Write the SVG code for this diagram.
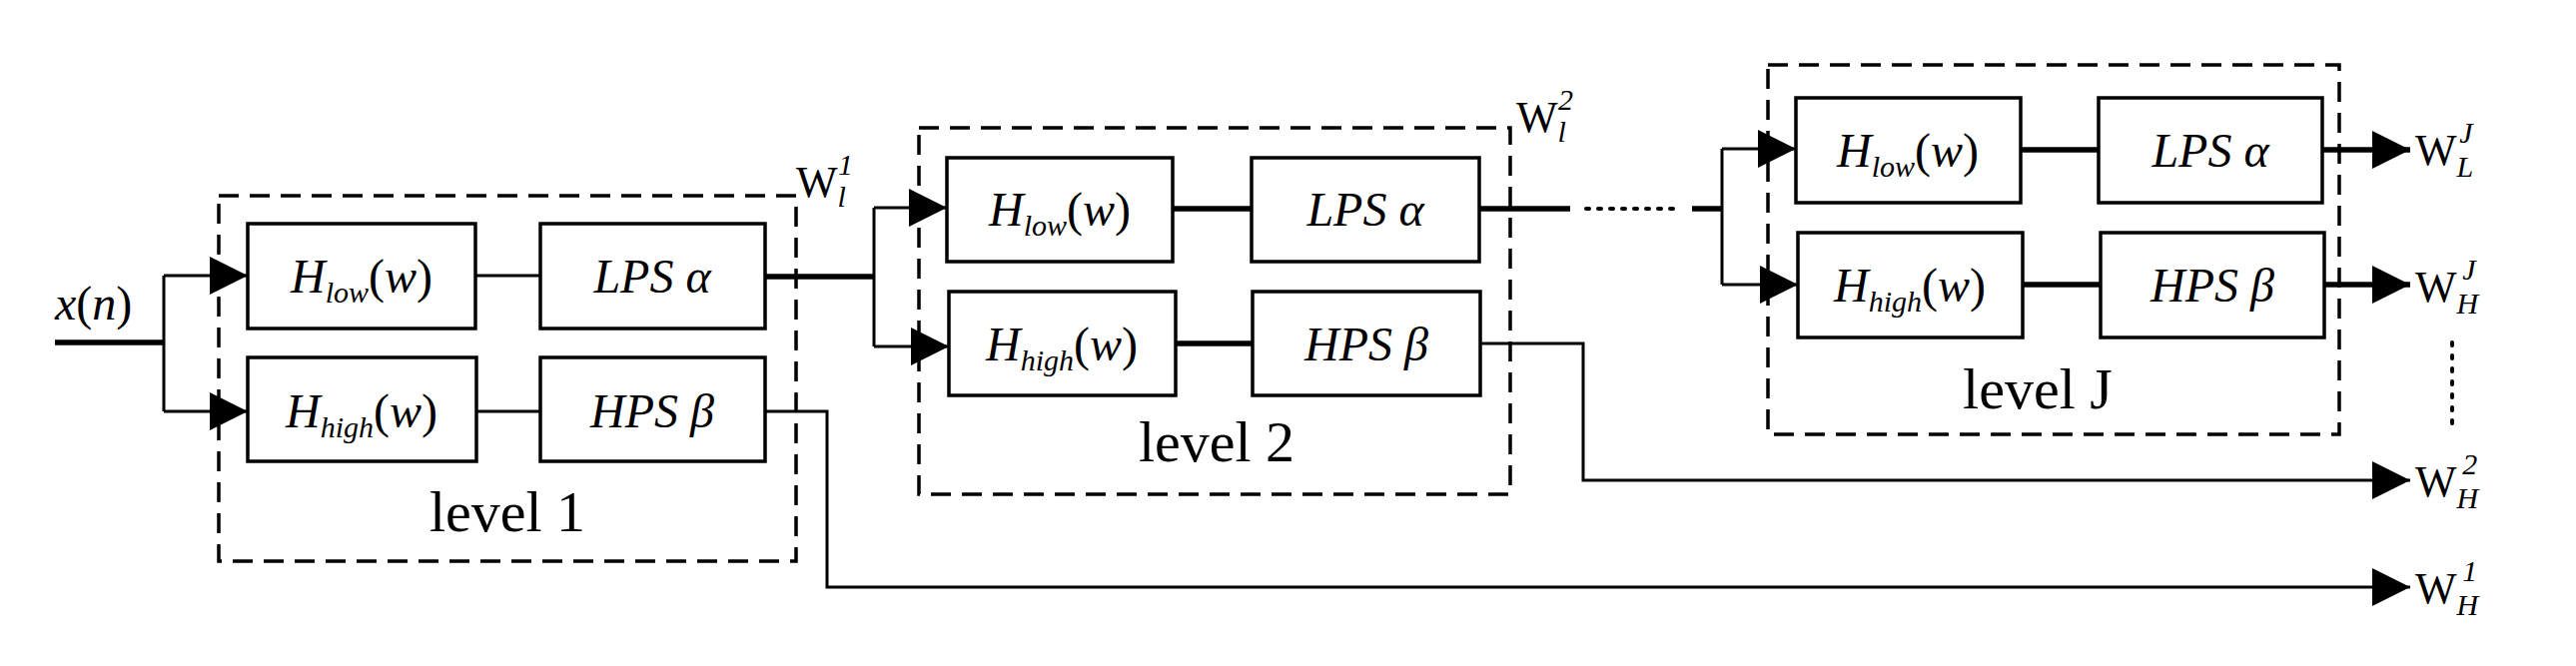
<svg xmlns="http://www.w3.org/2000/svg" width="2579" height="667" viewBox="0 0 2579 667">
<style>
.box{fill:#fff;stroke:#000;stroke-width:3.5}
.lvl{fill:none;stroke:#000;stroke-width:3.5;stroke-dasharray:20 11}
.w{fill:none;stroke:#000;stroke-width:3}
.t{fill:none;stroke:#000;stroke-width:5.5}
text{font-family:"Liberation Serif","Times New Roman",serif;fill:#000}
.m{font-style:italic;font-size:48px}
.s{font-size:30px;font-style:italic}
.lab{font-size:58px}
.W{font-size:44px}
</style>
<defs>
<marker id="a" viewBox="0 0 10 10" refX="10" refY="5" markerWidth="38" markerHeight="38" markerUnits="userSpaceOnUse" orient="auto"><path d="M0,0L10,5L0,10z" fill="#000"/></marker>
</defs>
<g id="connectors">
<path class="t" d="M55,343H164"/>
<path class="w" d="M164,276V412"/>
<path class="w" d="M164,276H248" marker-end="url(#a)"/>
<path class="w" d="M164,412H248" marker-end="url(#a)"/>
<path class="w" d="M476,276H541"/>
<path class="w" d="M477,412H541"/>
<path class="t" d="M766,277H875"/>
<path class="w" d="M875,208V347"/>
<path class="w" d="M875,208H948" marker-end="url(#a)"/>
<path class="w" d="M875,347H950" marker-end="url(#a)"/>
<path class="t" d="M1174,209H1253"/>
<path class="t" d="M1177,344H1254"/>
<path class="t" d="M1481,209H1572"/>
<path d="M1588,209H1684" stroke="#000" stroke-width="4" stroke-dasharray="3 9" stroke-linecap="round"/>
<path class="t" d="M1694,209H1724"/>
<path class="w" d="M1724,149V285"/>
<path class="w" d="M1724,149H1798" marker-end="url(#a)"/>
<path class="w" d="M1724,285H1800" marker-end="url(#a)"/>
<path class="t" d="M2023,150H2101"/>
<path class="t" d="M2025,285H2103"/>
<path class="t" d="M2325,150H2413" marker-end="url(#a)"/>
<path class="t" d="M2327,285H2413" marker-end="url(#a)"/>
<path class="w" d="M1482,344H1585V481H2413" marker-end="url(#a)"/>
<path class="w" d="M766,412H828V588H2413" marker-end="url(#a)"/>
<path d="M2455,343V425" stroke="#000" stroke-width="4" stroke-dasharray="3 10" stroke-linecap="round"/>
</g>
<g id="level1">
<rect class="lvl" x="219" y="196" width="578" height="366"/>
<text class="lab" x="508" y="532" text-anchor="middle">level 1</text>
</g>
<g id="level2">
<rect class="lvl" x="920" y="128" width="592" height="367"/>
<text class="lab" x="1218" y="462" text-anchor="middle">level 2</text>
</g>
<g id="levelJ">
<rect class="lvl" x="1770" y="65" width="572" height="370"/>
<text class="lab" x="2040" y="409" text-anchor="middle">level J</text>
</g>
<g id="L1-Hlow"><rect class="box" x="248" y="224" width="228" height="105"/><text class="m" x="362" y="293" text-anchor="middle">H<tspan class="s" dy="10">low</tspan><tspan dy="-10" font-style="normal">(</tspan>w<tspan font-style="normal">)</tspan></text></g>
<g id="L1-LPS"><rect class="box" x="541" y="224" width="225" height="105"/><text class="m" x="653" y="293" text-anchor="middle">LPS  α</text></g>
<g id="L1-Hhigh"><rect class="box" x="248" y="358" width="229" height="104"/><text class="m" x="362" y="428" text-anchor="middle">H<tspan class="s" dy="10">high</tspan><tspan dy="-10" font-style="normal">(</tspan>w<tspan font-style="normal">)</tspan></text></g>
<g id="L1-HPS"><rect class="box" x="541" y="358" width="225" height="104"/><text class="m" x="653" y="428" text-anchor="middle">HPS  β</text></g>
<g id="L2-Hlow"><rect class="box" x="948" y="158" width="226" height="104"/><text class="m" x="1061" y="226" text-anchor="middle">H<tspan class="s" dy="10">low</tspan><tspan dy="-10" font-style="normal">(</tspan>w<tspan font-style="normal">)</tspan></text></g>
<g id="L2-LPS"><rect class="box" x="1253" y="158" width="228" height="104"/><text class="m" x="1367" y="226" text-anchor="middle">LPS  α</text></g>
<g id="L2-Hhigh"><rect class="box" x="950" y="292" width="227" height="104"/><text class="m" x="1063" y="361" text-anchor="middle">H<tspan class="s" dy="10">high</tspan><tspan dy="-10" font-style="normal">(</tspan>w<tspan font-style="normal">)</tspan></text></g>
<g id="L2-HPS"><rect class="box" x="1254" y="292" width="228" height="104"/><text class="m" x="1368" y="361" text-anchor="middle">HPS  β</text></g>
<g id="LJ-Hlow"><rect class="box" x="1798" y="98" width="225" height="105"/><text class="m" x="1910" y="167" text-anchor="middle">H<tspan class="s" dy="10">low</tspan><tspan dy="-10" font-style="normal">(</tspan>w<tspan font-style="normal">)</tspan></text></g>
<g id="LJ-LPS"><rect class="box" x="2101" y="98" width="224" height="105"/><text class="m" x="2213" y="167" text-anchor="middle">LPS  α</text></g>
<g id="LJ-Hhigh"><rect class="box" x="1800" y="233" width="225" height="105"/><text class="m" x="1912" y="302" text-anchor="middle">H<tspan class="s" dy="10">high</tspan><tspan dy="-10" font-style="normal">(</tspan>w<tspan font-style="normal">)</tspan></text></g>
<g id="LJ-HPS"><rect class="box" x="2103" y="233" width="224" height="105"/><text class="m" x="2215" y="302" text-anchor="middle">HPS  β</text></g>
<g id="labels">
<text class="m" x="55" y="320">x<tspan font-style="normal">(</tspan>n<tspan font-style="normal">)</tspan></text>
<text class="W" x="797" y="197">W<tspan class="s" dy="10">l</tspan><tspan class="s" dx="-8" dy="-32">1</tspan></text>
<text class="W" x="1518" y="132">W<tspan class="s" dy="10">l</tspan><tspan class="s" dx="-8" dy="-32">2</tspan></text>
<text class="W" x="2418" y="165">W<tspan class="s" dy="12">L</tspan><tspan class="s" dx="-14" dy="-34">J</tspan></text>
<text class="W" x="2418" y="302">W<tspan class="s" dy="12">H</tspan><tspan class="s" dx="-16" dy="-34">J</tspan></text>
<text class="W" x="2418" y="497">W<tspan class="s" dy="12">H</tspan><tspan class="s" dx="-16" dy="-34">2</tspan></text>
<text class="W" x="2418" y="604">W<tspan class="s" dy="12">H</tspan><tspan class="s" dx="-16" dy="-34">1</tspan></text>
</g>
</svg>
